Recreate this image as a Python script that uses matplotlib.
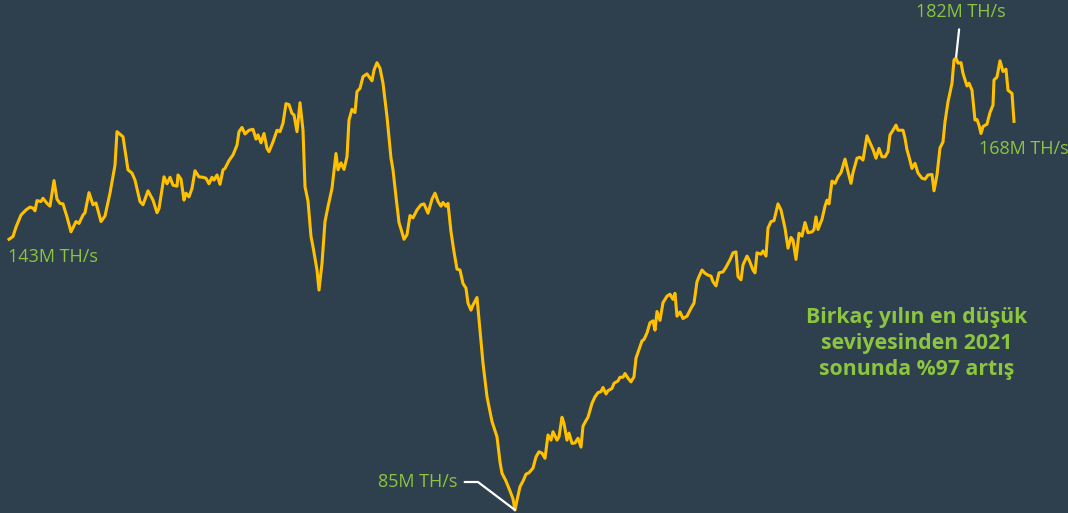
import matplotlib
matplotlib.use("Agg")
import matplotlib.pyplot as plt

# hash rate, M TH/s (day index from start of series)
days = [0, 4, 7, 12, 17, 21, 24, 26, 28, 32, 34, 38, 41, 45, 48, 51, 54, 58, 62, 67,
        70, 74, 76, 80, 84, 87, 92, 96, 101, 106, 108, 114, 119, 123, 126, 131, 134, 139, 144, 148,
        150, 155, 158, 161, 164, 168, 169, 172, 175, 177, 180, 183, 186, 190, 194, 197, 200, 203, 205, 208,
        211, 214, 216, 220, 224, 228, 230, 233, 236, 240, 244, 247, 249, 252, 255, 258, 260, 264, 268, 271,
        274, 277, 280, 283, 285, 288, 291, 294, 296, 299, 302, 304, 308, 310, 313, 316, 319, 323, 327, 329,
        332, 335, 338, 340, 343, 346, 348, 351, 354, 358, 363, 365, 368, 371, 374, 378, 382, 384, 387, 390,
        392, 395, 398, 401, 404, 408, 412, 415, 419, 423, 426, 429, 432, 434, 437, 439, 442, 445, 448, 451,
        454, 457, 459, 462, 464, 468, 471, 474, 478, 483, 488, 491, 493, 497, 501, 504, 506, 508, 511, 514,
        517, 520, 524, 527, 530, 533, 536, 539, 542, 544, 548, 550, 553, 555, 558, 560, 563, 566, 569, 572,
        574, 577, 579, 583, 586, 589, 592, 594, 597, 599, 603, 605, 609, 611, 614, 616, 619, 622, 625, 627,
        633, 635, 638, 641, 644, 646, 648, 651, 654, 658, 661, 664, 666, 668, 671, 674, 678, 682, 685, 688,
        690, 693, 696, 699, 702, 704, 707, 710, 714, 717, 721, 724, 727, 729, 732, 734, 738, 740, 744, 746,
        748, 752, 754, 757, 759, 762, 765, 769, 772, 776, 779, 782, 784, 787, 790, 793, 796, 799, 803, 805,
        807, 809, 813, 816, 818, 820, 823, 826, 829, 832, 836, 839, 842, 844, 848, 851, 854, 858, 861, 864,
        867, 870, 873, 876, 879, 881, 884, 887, 889, 894, 896, 898, 900, 903, 906, 909, 913, 916, 919, 923,
        925, 928, 931, 934, 936, 939, 943, 945, 947, 949, 952, 954, 958, 960, 963, 966, 968, 970, 972, 974,
        978, 981, 984, 985, 988, 991, 994, 997, 999, 1003, 1005]
hashrate = [143.1, 143.7, 145.7, 148.3, 149.4, 150.0, 149.8, 149.2, 151.4, 151.2, 151.9, 150.8, 150.2, 155.7, 151.7, 150.8, 150.7, 147.9, 144.7, 146.9,
            146.5, 148.3, 148.8, 153.1, 150.5, 150.9, 146.9, 148.1, 153.0, 159.0, 166.2, 165.1, 158.0, 157.3, 155.8, 151.2, 150.5, 153.5, 151.5, 148.8,
            149.7, 156.5, 155.0, 156.4, 154.7, 154.5, 156.9, 156.0, 151.5, 153.0, 152.2, 154.0, 157.8, 156.5, 156.4, 156.2, 155.0, 156.4, 155.8, 156.9,
            154.9, 158.0, 158.3, 160.0, 161.2, 163.3, 166.2, 167.1, 165.7, 166.5, 166.7, 164.6, 165.5, 163.8, 165.8, 162.6, 161.9, 164.0, 166.5, 166.2,
            168.0, 172.2, 172.0, 170.1, 169.8, 166.2, 172.4, 166.5, 154.4, 151.3, 143.7, 141.5, 136.5, 132.2, 137.9, 146.9, 150.1, 154.0, 161.5, 158.0,
            159.5, 158.1, 160.8, 168.7, 171.0, 170.3, 174.8, 175.5, 178.0, 178.6, 177.1, 179.4, 181.0, 179.8, 176.6, 169.4, 160.5, 158.0, 152.2, 146.7,
            145.3, 143.1, 144.1, 148.2, 147.7, 149.4, 150.5, 150.7, 148.7, 151.7, 153.0, 151.2, 150.2, 151.0, 150.2, 150.8, 144.7, 140.4, 136.7, 136.5,
            133.6, 132.6, 129.4, 127.9, 129.0, 130.6, 123.6, 116.5, 109.3, 104.0, 100.7, 95.3, 92.9, 91.2, 89.1, 87.4, 85.0, 87.1, 90.0, 91.2,
            92.7, 93.0, 94.0, 96.4, 97.5, 97.2, 96.1, 101.1, 100.0, 101.8, 100.0, 100.7, 104.9, 103.6, 100.0, 101.5, 99.3, 99.4, 100.4, 98.5,
            103.0, 104.2, 104.9, 107.9, 109.3, 110.2, 110.4, 111.3, 109.9, 110.6, 111.1, 112.2, 112.7, 113.5, 113.5, 114.3, 113.3, 112.5, 113.6, 117.6,
            121.3, 121.6, 123.0, 125.2, 125.6, 123.6, 127.6, 125.7, 129.5, 130.9, 131.3, 130.2, 131.5, 126.6, 127.5, 126.1, 126.6, 128.3, 129.4, 134.0,
            135.1, 136.5, 135.8, 135.4, 135.2, 134.0, 133.1, 135.9, 136.1, 137.1, 138.7, 140.2, 140.4, 135.1, 134.4, 137.6, 139.5, 138.7, 136.5, 135.9,
            140.2, 139.9, 140.6, 139.5, 145.5, 146.9, 147.1, 150.7, 149.4, 145.5, 141.2, 143.5, 142.9, 138.8, 144.4, 143.8, 146.7, 144.5, 144.7, 145.2,
            147.9, 145.2, 147.4, 150.2, 151.5, 150.7, 155.6, 155.1, 156.5, 157.4, 160.3, 157.6, 155.1, 157.4, 160.5, 160.7, 160.1, 165.3, 163.8, 162.4,
            160.5, 162.6, 160.8, 160.8, 161.9, 165.5, 166.5, 167.6, 166.5, 166.5, 164.8, 162.3, 160.8, 158.3, 159.4, 157.3, 156.2, 156.0, 156.9, 157.0,
            153.5, 156.9, 162.7, 164.0, 168.3, 172.6, 176.6, 181.6, 182.0, 180.9, 181.0, 178.7, 176.0, 176.6, 175.1, 168.7, 168.8, 167.6, 165.8, 167.3,
            167.8, 170.3, 171.9, 177.3, 177.9, 181.4, 179.1, 179.6, 175.1, 174.4, 168.4]

note = "Birkaç yılın en düşük\nseviyesinden 2021\nsonunda %97 artış"

bg = "#2e3f4e"
gold = "#ffc000"
green = "#8cc540"

plt.rcParams["font.family"] = ["Open Sans", "DejaVu Sans"]

fig = plt.figure(figsize=(10.68, 5.13), dpi=100, facecolor=bg)
ax = fig.add_axes([0, 0, 1, 1])
ax.set_facecolor(bg)
ax.plot(days, hashrate, color=gold, lw=2.2, solid_joinstyle="round", zorder=3)
ax.set_xlim(-9, 1059)
ax.set_ylim(84.36, 194.45)
ax.axis("off")

i_min = hashrate.index(min(hashrate))
i_max = hashrate.index(max(hashrate))

# start / end labels
ax.annotate(f"{hashrate[0]:.0f}M TH/s", (days[0], hashrate[0]), xytext=(-1, -18),
            textcoords="offset pixels", ha="left", va="center", color=green, fontsize=13)
ax.annotate(f"{hashrate[-1]:.0f}M TH/s", (days[-1], hashrate[-1]), xytext=(-35, -28),
            textcoords="offset pixels", ha="left", va="center", color=green, fontsize=13)

# low point with white leader
ax.annotate(f"{hashrate[i_min]:.0f}M TH/s", (days[i_min], hashrate[i_min]), xytext=(-58, 28),
            textcoords="offset pixels", ha="right", va="center", color=green, fontsize=13,
            arrowprops=dict(arrowstyle="-", color="white", lw=1.6, relpos=(1, 0.5),
                            shrinkA=3.5, shrinkB=0,
                            connectionstyle="angle,angleA=0,angleB=142.9,rad=0"))

# high point
ax.annotate(f"{hashrate[i_max]:.0f}M TH/s", (days[i_max], hashrate[i_max]), xytext=(5, 46),
            textcoords="offset pixels", ha="center", va="center", color=green, fontsize=13,
            arrowprops=dict(arrowstyle="-", color="white", lw=1.6, shrinkA=4, shrinkB=1))

fig.text(0.858, 0.33, note, ha="center", va="center", color=green,
         fontsize=15.3, fontweight="bold", linespacing=1.3)

fig.savefig("out.png", dpi=100, facecolor=bg)
